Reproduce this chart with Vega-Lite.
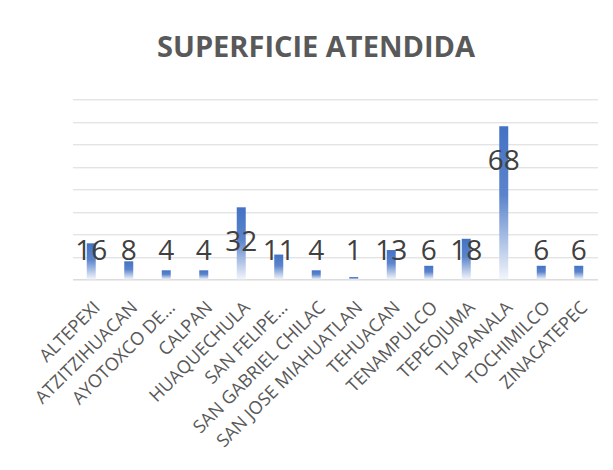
{
  "$schema": "https://vega.github.io/schema/vega-lite/v6.json",
  "width": 525,
  "height": 180,
  "autosize": {"type": "none"},
  "padding": {"left": 72.5, "top": 99.3, "right": 15.5, "bottom": 190.7},
  "background": "#ffffff",
  "title": {
    "text": "SUPERFICIE ATENDIDA",
    "font": "Open Sans",
    "fontSize": 29,
    "fontWeight": "bold",
    "color": "#595959",
    "anchor": "middle",
    "frame": "group",
    "baseline": "alphabetic",
    "dx": -19,
    "offset": 13
  },
  "data": {
    "values": [
      {"municipio": "ALTEPEXI", "superficie": 16},
      {"municipio": "ATZITZIHUACAN", "superficie": 8},
      {"municipio": "AYOTOXCO DE…", "superficie": 4},
      {"municipio": "CALPAN", "superficie": 4},
      {"municipio": "HUAQUECHULA", "superficie": 32},
      {"municipio": "SAN FELIPE…", "superficie": 11},
      {"municipio": "SAN GABRIEL CHILAC", "superficie": 4},
      {"municipio": "SAN JOSE MIAHUATLAN", "superficie": 1},
      {"municipio": "TEHUACAN", "superficie": 13},
      {"municipio": "TENAMPULCO", "superficie": 6},
      {"municipio": "TEPEOJUMA", "superficie": 18},
      {"municipio": "TLAPANALA", "superficie": 68},
      {"municipio": "TOCHIMILCO", "superficie": 6},
      {"municipio": "ZINACATEPEC", "superficie": 6}
    ]
  },
  "encoding": {
    "x": {
      "field": "municipio",
      "type": "nominal",
      "sort": null,
      "scale": {"paddingInner": 0.76, "paddingOuter": 0.38},
      "axis": {
        "title": null,
        "labelAngle": -45,
        "labelAlign": "right",
        "labelBaseline": "top",
        "labelFont": "Open Sans",
        "labelFontSize": 18,
        "labelColor": "#595959",
        "labelPadding": 19,
        "labelOverlap": false,
        "labelLimit": 400,
        "ticks": false,
        "domainColor": "#d9d9d9",
        "domainWidth": 1
      }
    }
  },
  "layer": [
    {
      "mark": {
        "type": "bar",
        "color": {
          "gradient": "linear",
          "x1": 0, "y1": 0, "x2": 0, "y2": 1,
          "stops": [
            {"offset": 0, "color": "#4472c4"},
            {"offset": 0.45, "color": "#5b84cc"},
            {"offset": 1, "color": "#f2f5fb"}
          ]
        }
      },
      "encoding": {
        "y": {
          "field": "superficie",
          "type": "quantitative",
          "scale": {"domain": [0, 80], "nice": false},
          "axis": {
            "title": null,
            "labels": false,
            "ticks": false,
            "domain": false,
            "values": [0, 10, 20, 30, 40, 50, 60, 70, 80],
            "gridColor": "#d9d9d9",
            "gridWidth": 1
          }
        }
      }
    },
    {
      "transform": [{"filter": "datum.superficie >= 28"}],
      "mark": {
        "type": "text",
        "font": "Open Sans",
        "fontSize": 28,
        "color": "#404040",
        "baseline": "alphabetic",
        "dy": 44
      },
      "encoding": {
        "y": {
          "field": "superficie",
          "type": "quantitative",
          "axis": {
            "title": null,
            "labels": false,
            "ticks": false,
            "domain": false,
            "values": [0, 10, 20, 30, 40, 50, 60, 70, 80],
            "gridColor": "#d9d9d9",
            "gridWidth": 1
          }
        },
        "text": {"field": "superficie", "type": "quantitative"}
      }
    },
    {
      "transform": [{"filter": "datum.superficie < 28"}],
      "mark": {
        "type": "text",
        "font": "Open Sans",
        "fontSize": 28,
        "color": "#404040",
        "baseline": "alphabetic",
        "dy": -19
      },
      "encoding": {
        "y": {
          "datum": 0,
          "type": "quantitative",
          "axis": {
            "title": null,
            "labels": false,
            "ticks": false,
            "domain": false,
            "values": [0, 10, 20, 30, 40, 50, 60, 70, 80],
            "gridColor": "#d9d9d9",
            "gridWidth": 1
          }
        },
        "text": {"field": "superficie", "type": "quantitative"}
      }
    }
  ],
  "config": {
    "view": {"stroke": null}
  }
}
